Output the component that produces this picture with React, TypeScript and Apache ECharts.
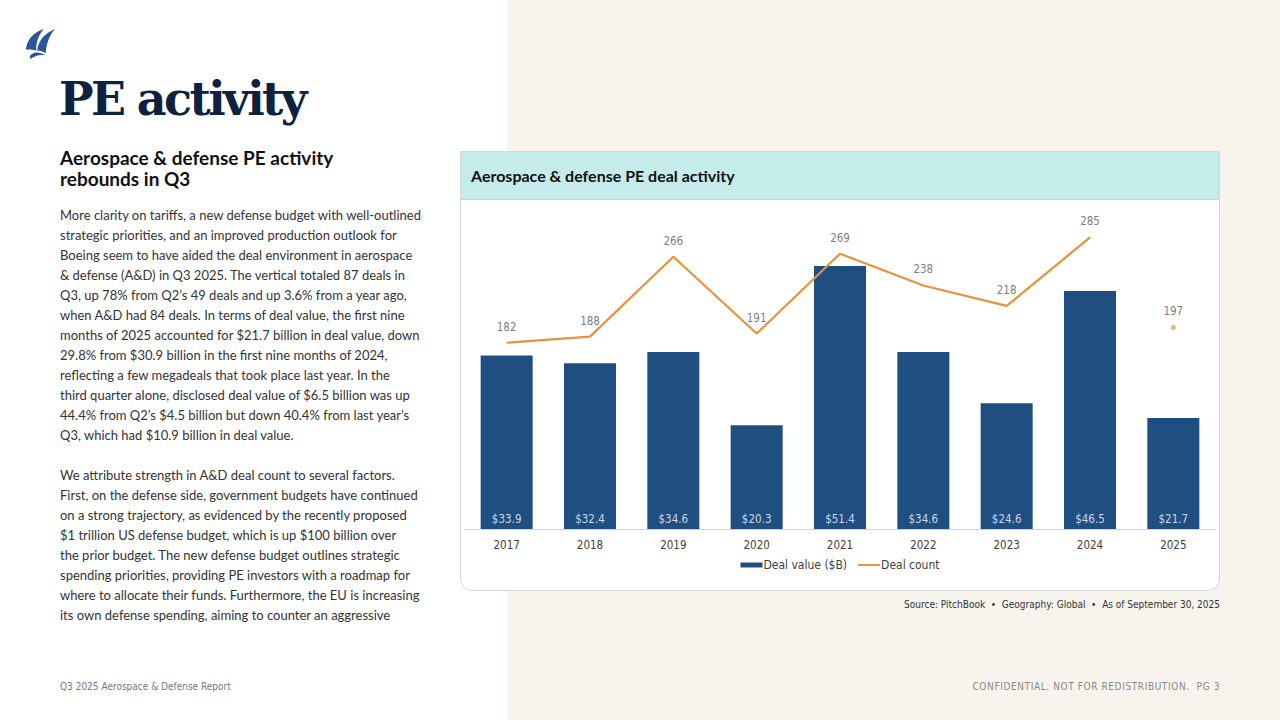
import React, { useEffect, useRef } from "react";
import * as echarts from "echarts";

const years = ["2017", "2018", "2019", "2020", "2021", "2022", "2023", "2024", "2025"];
const dealValue = [33.9, 32.4, 34.6, 20.3, 51.4, 34.6, 24.6, 46.5, 21.7];
const dealCount = [182, 188, 266, 191, 269, 238, 218, 285, null];
const dealCountYtd = [null, null, null, null, null, null, null, null, 197];
const dealCountLabels = [182, 188, 266, 191, 269, 238, 218, 285, 197];

const bodyLines1 = [
  "More clarity on tariffs, a new defense budget with well-outlined",
  "strategic priorities, and an improved production outlook for",
  "Boeing seem to have aided the deal environment in aerospace",
  "& defense (A&D) in Q3 2025. The vertical totaled 87 deals in",
  "Q3, up 78% from Q2\u2019s 49 deals and up 3.6% from a year ago,",
  "when A&D had 84 deals. In terms of deal value, the first nine",
  "months of 2025 accounted for $21.7 billion in deal value, down",
  "29.8% from $30.9 billion in the first nine months of 2024,",
  "reflecting a few megadeals that took place last year. In the",
  "third quarter alone, disclosed deal value of $6.5 billion was up",
  "44.4% from Q2\u2019s $4.5 billion but down 40.4% from last year\u2019s",
  "Q3, which had $10.9 billion in deal value.",
];
const bodyLines2 = [
  "We attribute strength in A&D deal count to several factors.",
  "First, on the defense side, government budgets have continued",
  "on a strong trajectory, as evidenced by the recently proposed",
  "$1 trillion US defense budget, which is up $100 billion over",
  "the prior budget. The new defense budget outlines strategic",
  "spending priorities, providing PE investors with a roadmap for",
  "where to allocate their funds. Furthermore, the EU is increasing",
  "its own defense spending, aiming to counter an aggressive",
];

const chartFont = "'Liberation Sans Narrow', 'DejaVu Sans Condensed', 'Roboto', sans-serif";
const bodyFont = "Lato, 'Open Sans', sans-serif";

function Chart() {
  const ref = useRef<HTMLDivElement>(null);
  useEffect(() => {
    if (!ref.current) return;
    const chart = echarts.init(ref.current, undefined, { renderer: "svg" });
    chart.setOption({
      animation: false,
      textStyle: { fontFamily: chartFont },
      grid: { left: 4, right: 4, top: 22, bottom: 61 },
      legend: {
        data: [
          { name: "Deal value ($B)", icon: "rect" },
          { name: "Deal count", itemStyle: { opacity: 0 } },
        ],
        bottom: 14,
        left: "center",
        itemWidth: 22,
        itemHeight: 5,
        itemGap: 10,
        textStyle: { fontFamily: chartFont, fontSize: 12, color: "#404040", padding: [0, 0, 0, -4] },
      },
      xAxis: {
        type: "category",
        data: years,
        axisTick: { show: false },
        axisLine: { lineStyle: { color: "#d0d0d0", width: 1 } },
        axisLabel: { color: "#404040", fontSize: 11.5, margin: 10, fontFamily: chartFont },
      },
      yAxis: [
        { type: "value", min: 0, max: 60, show: false, splitLine: { show: false } },
        { type: "value", min: 0, max: 300, show: false, splitLine: { show: false } },
      ],
      series: [
        {
          name: "Deal value ($B)",
          type: "bar",
          data: dealValue,
          yAxisIndex: 0,
          barWidth: 52,
          itemStyle: { color: "#1f4e80" },
          label: {
            show: true,
            position: "insideBottom",
            distance: 4,
            color: "#c9d6e8",
            fontSize: 11.5,
            fontFamily: chartFont,
            formatter: (p: any) => "$" + p.value.toFixed(1),
          },
        },
        {
          name: "Deal count",
          type: "line",
          data: dealCount,
          yAxisIndex: 1,
          symbol: "none",
          connectNulls: false,
          lineStyle: { color: "#e8923a", width: 2.2 },
          itemStyle: { color: "#e8923a" },
          z: 5,
        },
        {
          name: "Deal count YTD",
          type: "scatter",
          data: dealCountYtd,
          yAxisIndex: 1,
          symbol: "circle",
          symbolSize: 5,
          itemStyle: { color: "#e0a050" },
          z: 5,
        },
        {
          name: "Deal count labels",
          type: "scatter",
          data: dealCountLabels,
          yAxisIndex: 1,
          symbol: "circle",
          symbolSize: 2,
          itemStyle: { color: "rgba(0,0,0,0)" },
          label: {
            show: true,
            position: "top",
            distance: 9,
            color: "#595959",
            fontSize: 11.5,
            fontFamily: chartFont,
          },
          z: 6,
        },
      ],
    });
    return () => chart.dispose();
  }, []);
  return <div ref={ref} style={{ width: 758, height: 390 }} />;
}

export default function App() {
  const lineStyle: React.CSSProperties = { whiteSpace: "nowrap", height: 20, lineHeight: "20px" };
  return (
    <div style={{ position: "absolute", left: 0, top: 0, width: 1280, height: 720, background: "#ffffff", overflow: "hidden", fontFamily: bodyFont }}>
      <div style={{ position: "absolute", left: 507, top: 0, width: 773, height: 720, background: "#f7f4ee" }} />
      <svg style={{ position: "absolute", left: 24, top: 27 }} width="32" height="32" viewBox="0 0 34 34">
        <path d="M2 24 C3 14 9 6 21 2 C15 9 13 16 13 25 C9 24 5 24 2 24 Z" fill="#2d5597" />
        <path d="M14 25 C15 15 21 7 33 2 C26 10 24 18 23 28 C20 26 17 25 14 25 Z" fill="#2d5597" />
        <path d="M6 31 C10 26 15 26 23 30 C17 29 12 30 7 34 Z" fill="#2d5597" />
      </svg>
      <div style={{ position: "absolute", left: 59, top: 72, fontFamily: "'DejaVu Serif', 'Liberation Serif', serif", fontWeight: 900, fontSize: 46, color: "#0e2240", letterSpacing: -2.6, whiteSpace: "nowrap" }}>
        PE activity
      </div>
      <div style={{ position: "absolute", left: 60, top: 147, fontWeight: 700, fontSize: 19, lineHeight: "21px", color: "#111111", width: 360 }}>
        Aerospace &amp; defense PE activity<br />rebounds in Q3
      </div>
      <div style={{ position: "absolute", left: 60, top: 205, fontSize: 13, color: "#333333" }}>
        {bodyLines1.map((l, i) => (
          <div key={"a" + i} style={lineStyle}>{l}</div>
        ))}
        <div style={lineStyle}>{"\u00a0"}</div>
        {bodyLines2.map((l, i) => (
          <div key={"b" + i} style={lineStyle}>{l}</div>
        ))}
      </div>
      <div style={{ position: "absolute", left: 460, top: 151, width: 758, height: 438, background: "#ffffff", border: "1px solid #d6d6d6", borderRadius: "0 0 12px 12px", overflow: "hidden" }}>
        <div style={{ height: 47, background: "#c5ecea", borderBottom: "1px solid #c8d2d2", display: "flex", alignItems: "center", paddingLeft: 10, fontWeight: 700, fontSize: 16, color: "#111111" }}>
          Aerospace &amp; defense PE deal activity
        </div>
        <Chart />
      </div>
      <div style={{ position: "absolute", right: 60, top: 599, fontFamily: chartFont, fontSize: 10, color: "#333333", whiteSpace: "nowrap" }}>
        Source: PitchBook {"\u00a0\u2022\u00a0"} Geography: Global {"\u00a0\u2022\u00a0"} As of September 30, 2025
      </div>
      <div style={{ position: "absolute", left: 60, top: 681, fontFamily: chartFont, fontSize: 10, color: "#777777", whiteSpace: "nowrap" }}>
        Q3 2025 Aerospace &amp; Defense Report
      </div>
      <div style={{ position: "absolute", right: 60, top: 681, fontFamily: chartFont, fontSize: 10, color: "#888888", letterSpacing: 0.6, whiteSpace: "nowrap" }}>
        CONFIDENTIAL. NOT FOR REDISTRIBUTION. {"\u00a0"}PG 3
      </div>
    </div>
  );
}
